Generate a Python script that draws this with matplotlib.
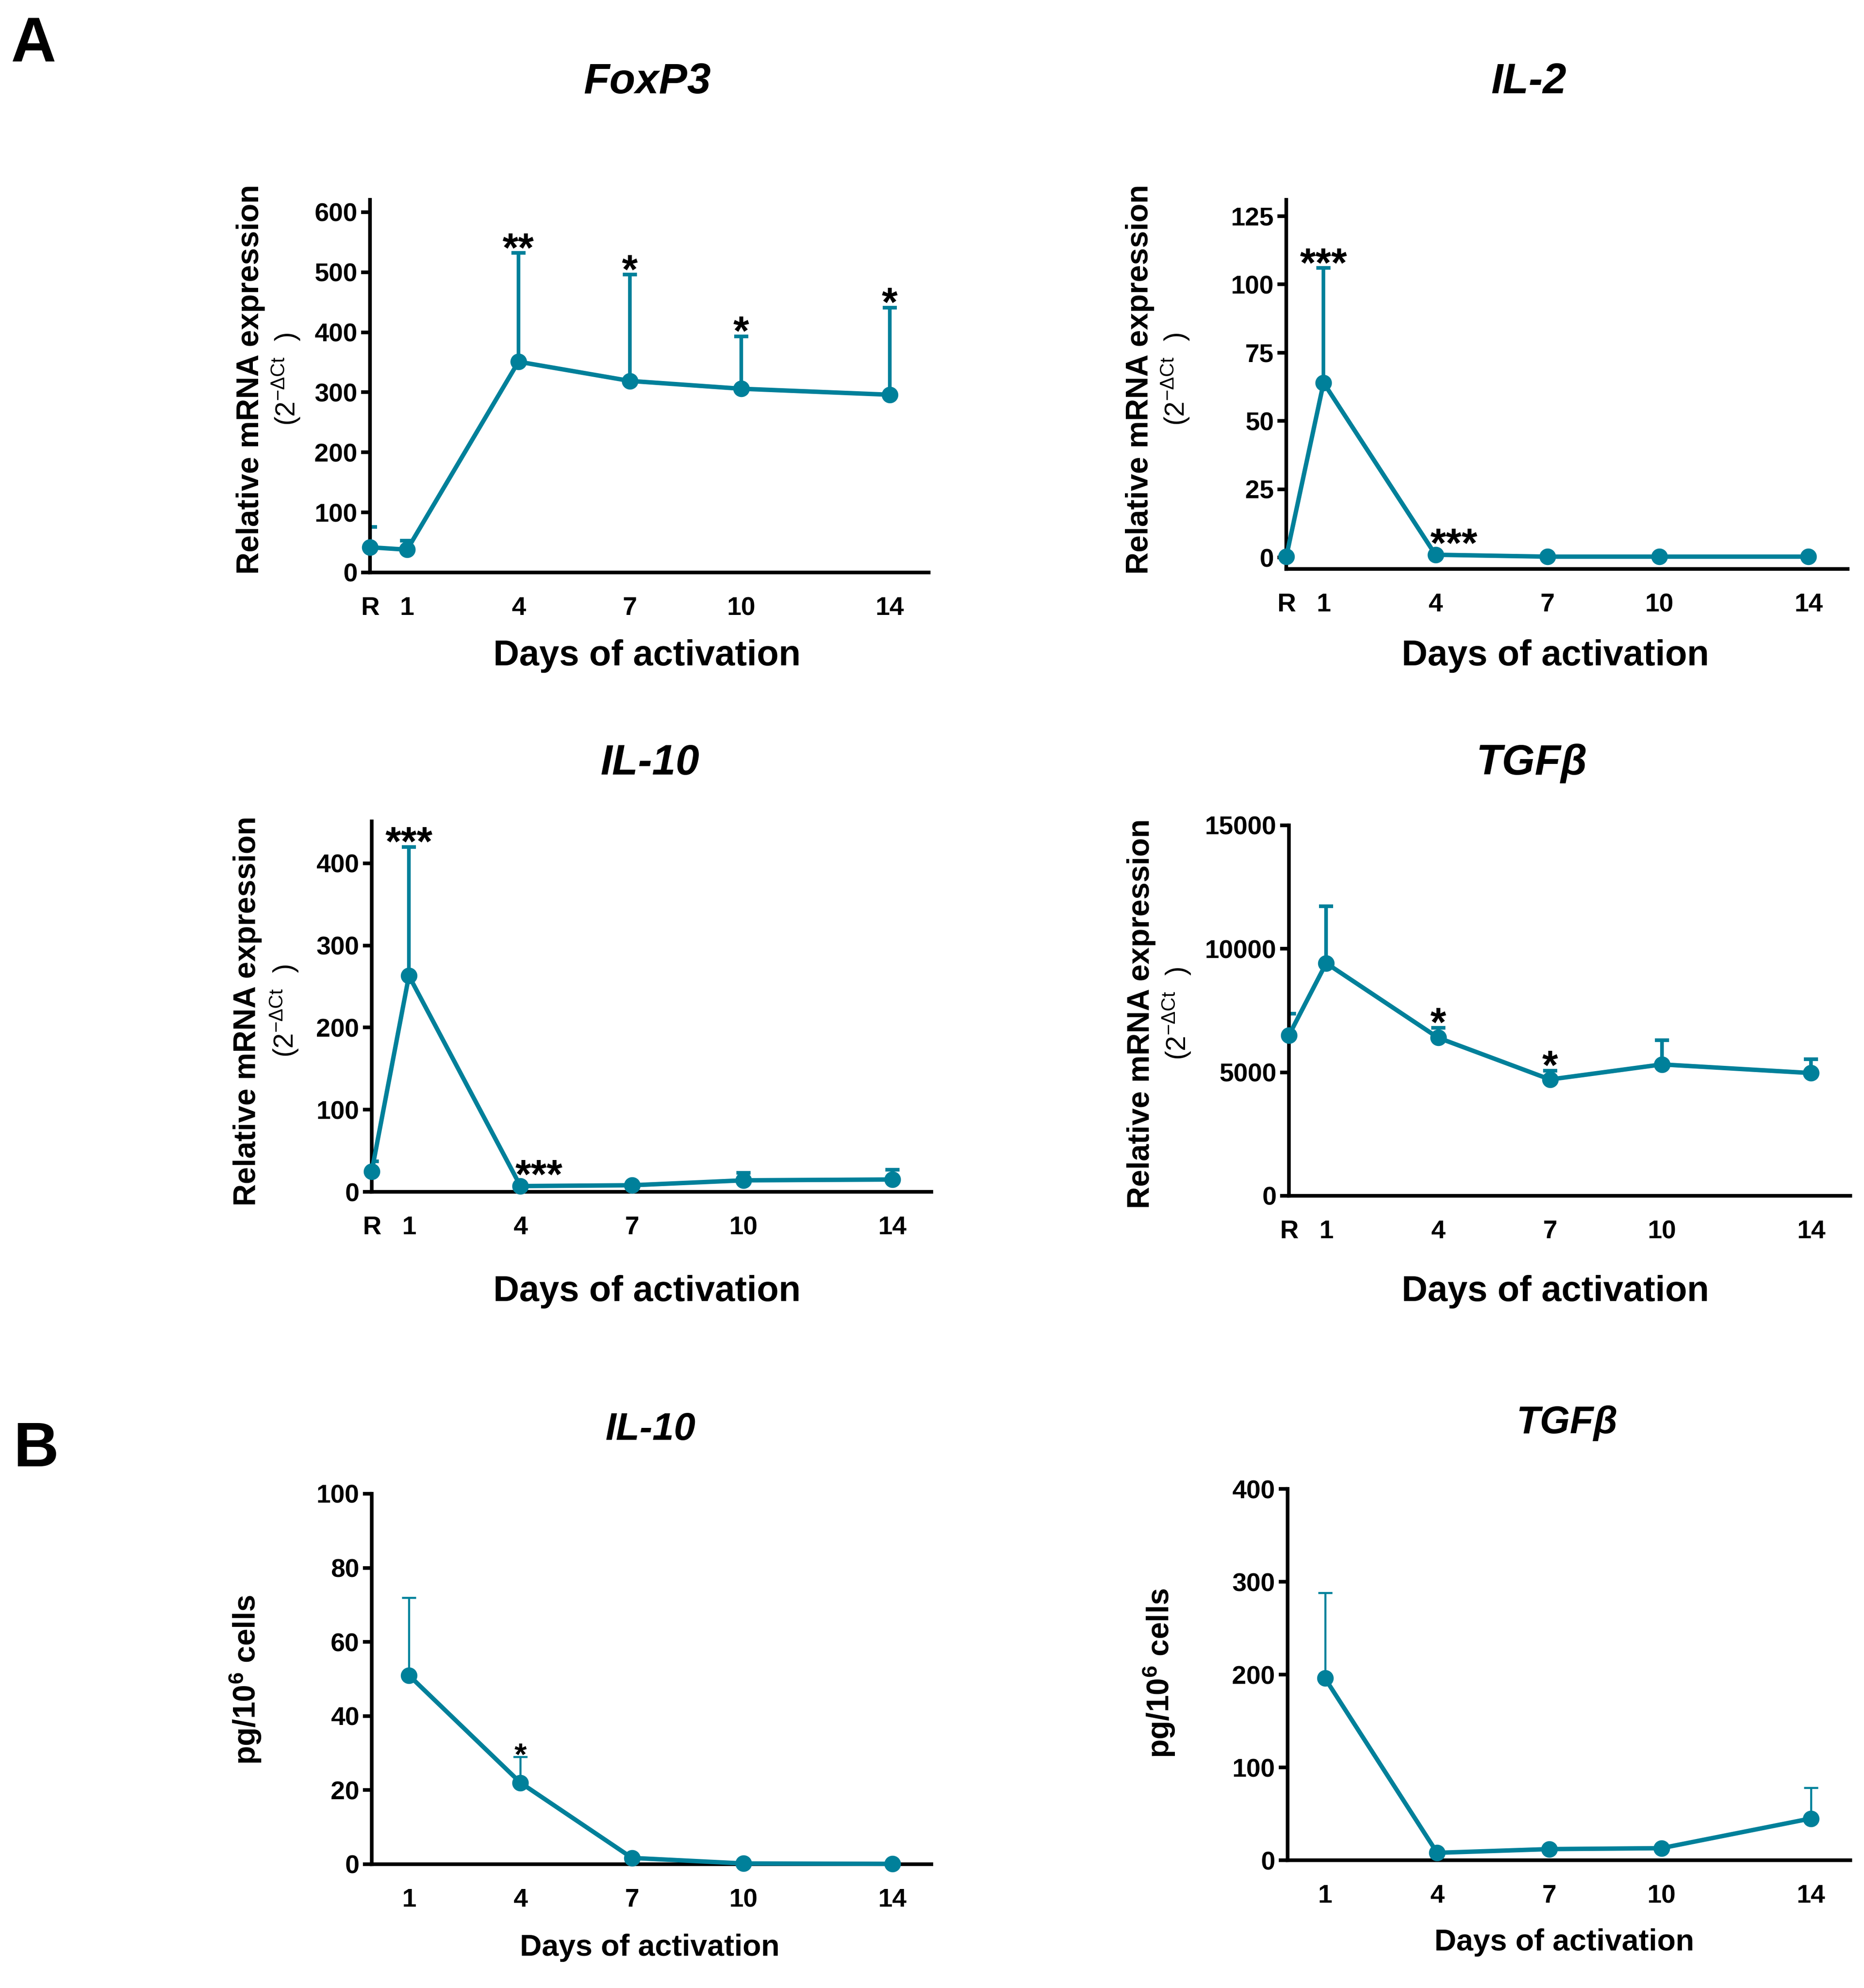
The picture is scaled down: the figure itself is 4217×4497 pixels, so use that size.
import numpy as np
import matplotlib
matplotlib.use('Agg')
import matplotlib.pyplot as plt
from matplotlib import font_manager

W, H = 4217, 4497
DPI = 300

names = {f.name for f in font_manager.fontManager.ttflist}
NARROW = 'Liberation Sans Narrow' if 'Liberation Sans Narrow' in names else 'Liberation Sans'
WIDE = 'Liberation Sans'
TEAL = '#00809A'

# ---- data ----
days_a = [0, 1, 4, 7, 10, 14]
day_labels_a = ['R', '1', '4', '7', '10', '14']
days_b = [1, 4, 7, 10, 14]
day_labels_b = ['1', '4', '7', '10', '14']

foxp3_mean = [42, 38, 351, 319, 306, 296]
foxp3_err = [34, 15, 181, 177, 87, 145]
foxp3_stars = {4: '**', 7: '*', 10: '*', 14: '*'}

il2_mean = [0.3, 64, 1.0, 0.3, 0.3, 0.3]
il2_err = [0, 42, 0, 0, 0, 0]
il2_stars = {1: '***', 4: '***'}

il10_mrna_mean = [25, 263, 7, 8, 14, 15]
il10_mrna_err = [12, 157, 0, 0, 9, 12]
il10_mrna_stars = {1: '***', 4: '***'}

tgfb_mrna_mean = [6500, 9420, 6400, 4710, 5320, 4970]
tgfb_mrna_err = [870, 2310, 410, 360, 980, 560]
tgfb_mrna_stars = {4: '*', 7: '*'}

il10_prot_mean = [51, 22, 1.7, 0.2, 0.1]
il10_prot_err = [21, 7, 0, 0, 0]
il10_prot_stars = {4: '*'}

tgfb_prot_mean = [196, 8, 12, 13, 45]
tgfb_prot_err = [92, 0, 0, 0, 33]
tgfb_prot_stars = {}

fig = plt.figure(figsize=(W / DPI, H / DPI), dpi=DPI)


def px_axes(x0, y0, x1, y1):
    return fig.add_axes([x0 / W, 1 - y1 / H, (x1 - x0) / W, (y1 - y0) / H])


def T(x, y, s, **kw):
    fig.text(x / W, 1 - y / H, s, ha='center', va='center', **kw)


def panel(box, days, labels, mean, err, stars, ylim, yticks, mark_r, elw, starsize):
    ax = px_axes(*box)
    ax.errorbar(days, mean, yerr=[np.zeros(len(err)), err], fmt='none',
                ecolor=TEAL, elinewidth=elw, capsize=3.9, capthick=elw, zorder=2)
    ax.plot(days, mean, color=TEAL, lw=2.4, marker='o', ms=8, zorder=3, clip_on=False)
    ax.set_xlim(0, 15.05)
    ax.set_ylim(*ylim)
    ax.set_yticks(yticks)
    ax.set_xticks(days)
    ax.set_xticklabels(labels)
    for s in ['top', 'right']:
        ax.spines[s].set_visible(False)
    for s in ['left', 'bottom']:
        ax.spines[s].set_linewidth(2)
    ax.tick_params(axis='y', length=4.8, width=2, pad=2)
    ax.tick_params(axis='x', length=0, pad=13)
    if mark_r:
        ax.set_xticks([0], minor=True)
        ax.tick_params(axis='x', which='minor', length=5.5, width=2)
    for lab in ax.get_xticklabels() + ax.get_yticklabels():
        lab.set_fontfamily(NARROW)
        lab.set_fontweight('bold')
        lab.set_fontsize(14)
    for d, s in stars.items():
        i = days.index(d)
        if err[i] > 0:
            xy, off = (d, mean[i] + err[i]), (0, -4.5)
        else:
            xy, off = (d, mean[i]), (10, -1)
        ax.annotate(s, xy=xy, xytext=off, textcoords='offset points',
                    ha='center', va='baseline', fontsize=starsize,
                    fontweight='bold', family=NARROW)
    return ax


panel((837, 452, 2101, 1295), days_a, day_labels_a, foxp3_mean, foxp3_err, foxp3_stars,
      (0, 620.6), range(0, 601, 100), True, 2, 22)
panel((2910, 452, 4180, 1287), days_a, day_labels_a, il2_mean, il2_err, il2_stars,
      (-4.2, 131), range(0, 126, 25), True, 2, 22)
panel((841, 1858, 2107, 2696), days_a, day_labels_a, il10_mrna_mean, il10_mrna_err,
      il10_mrna_stars, (0, 451), range(0, 401, 100), True, 2, 22)
panel((2916, 1867, 4186, 2705), days_a, day_labels_a, tgfb_mrna_mean, tgfb_mrna_err,
      tgfb_mrna_stars, (0, 15000), [0, 5000, 10000, 15000], True, 2, 22)
panel((841, 3379, 2107, 4217), days_b, day_labels_b, il10_prot_mean, il10_prot_err,
      il10_prot_stars, (0, 100), range(0, 101, 20), False, 1.1, 17)
panel((2913, 3368, 4186, 4208), days_b, day_labels_b, tgfb_prot_mean, tgfb_prot_err,
      tgfb_prot_stars, (0, 400), range(0, 401, 100), False, 1.1, 17)

# panel letters
T(76, 102, 'A', fontsize=34, fontweight='bold', family=WIDE)
T(82, 3280, 'B', fontsize=34, fontweight='bold', family=WIDE)

# titles
title_kw = dict(fontweight='bold', style='italic', family=NARROW)
T(1464, 186, 'FoxP3', fontsize=23, **title_kw)
T(3459, 186, 'IL-2', fontsize=23, **title_kw)
T(1470, 1727, 'IL-10', fontsize=23, **title_kw)
T(3465, 1727, 'TGFβ', fontsize=23, **title_kw)
T(1472, 3234, 'IL-10', fontsize=21, **title_kw)
T(3545, 3219, 'TGFβ', fontsize=21, **title_kw)

# x labels
xl_kw = dict(fontweight='bold', family=NARROW)
T(1464, 1484, 'Days of activation', fontsize=19.5, **xl_kw)
T(3519, 1484, 'Days of activation', fontsize=19.5, **xl_kw)
T(1464, 2922, 'Days of activation', fontsize=19.5, **xl_kw)
T(3519, 2922, 'Days of activation', fontsize=19.5, **xl_kw)
T(1470, 4406, 'Days of activation', fontsize=16.5, **xl_kw)
T(3539, 4394, 'Days of activation', fontsize=16.5, **xl_kw)

# y labels
yl_kw = dict(rotation=90, fontweight='bold', family=WIDE, fontsize=16.7)
sub_kw = dict(rotation=90, family=WIDE, fontsize=15)
sub = r'(2$^{\mathregular{-\Delta Ct}}$  )'
for (xm, xs, yc) in [(567, 647, 858), (2579, 2659, 858), (560, 643, 2287), (2582, 2662, 2293)]:
    T(xm, yc, 'Relative mRNA expression', **yl_kw)
    T(xs, yc, sub, **sub_kw)
T(555, 3800, r'pg/10$^{\mathregular{6}}$ cells', **yl_kw)
T(2622, 3785, r'pg/10$^{\mathregular{6}}$ cells', **yl_kw)

fig.savefig('out.png', dpi=DPI)
